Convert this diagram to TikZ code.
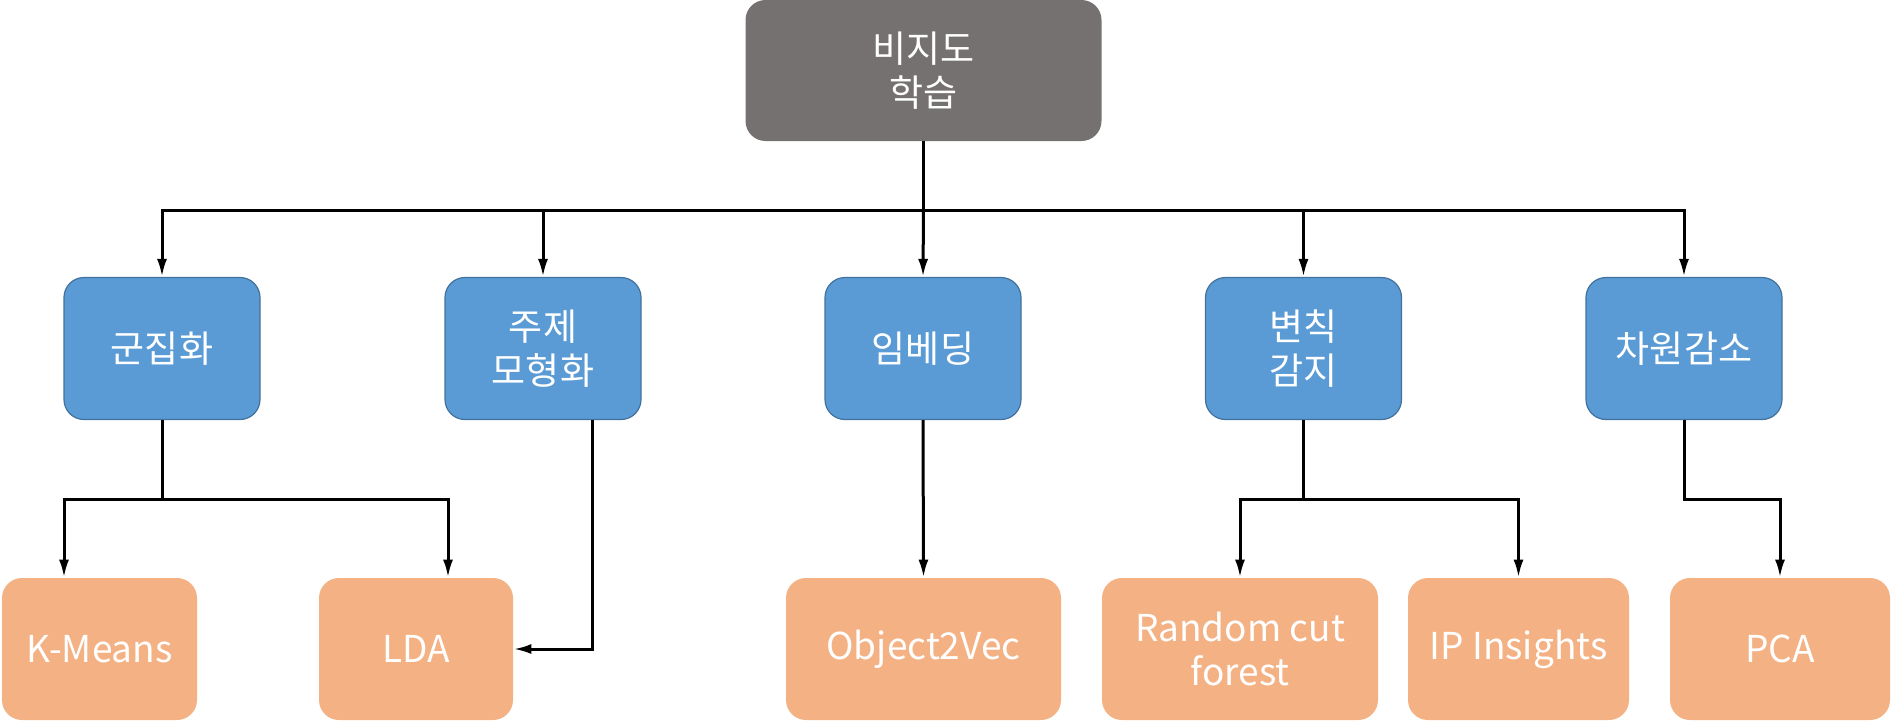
\documentclass[tikz,border=0pt]{standalone}
\usepackage{fontspec}
\setmainfont{Noto Sans CJK KR}
\usetikzlibrary{arrows.meta}
\definecolor{topgray}{HTML}{767171}
\definecolor{bluefill}{HTML}{5B9BD5}
\definecolor{blueline}{HTML}{41719C}
\definecolor{orangefill}{HTML}{F4B183}
\tikzset{
  box/.style={rectangle, rounded corners=10pt, text=white, align=center,
    font=\fontsize{18.5pt}{22pt}\selectfont, inner sep=0pt},
  topbox/.style={box, fill=topgray, minimum width=178pt, minimum height=70.5pt},
  midbox/.style={box, fill=bluefill, draw=blueline, line width=0.6pt, minimum width=98pt, minimum height=71pt},
  leafbox/.style={box, fill=orangefill, minimum height=71pt},
  arr/.style={line width=1.5pt, -{Latex[length=9pt,width=5pt]}},
  ln/.style={line width=1.5pt}
}
\begin{document}
\begin{tikzpicture}[x=0.5pt,y=-0.5pt]
\useasboundingbox (0,0) rectangle (1892,720);
\node[topbox] (top) at (923.5,70.5) {비지도\\학습};
\node[midbox] (b1) at (162,348.5) {군집화};
\node[midbox] (b2) at (543,348.5) {주제\\모형화};
\node[midbox] (b3) at (923,348.5) {임베딩};
\node[midbox] (b4) at (1303.5,348.5) {변칙\\감지};
\node[midbox] (b5) at (1684,348.5) {차원감소};
\node[leafbox, minimum width=97.5pt] (km) at (99.5,649) {K-Means};
\node[leafbox, minimum width=97pt] (lda) at (416,649) {LDA};
\node[leafbox, minimum width=137.5pt] (o2v) at (923.5,649) {Object2Vec};
\node[leafbox, minimum width=138pt] (rcf) at (1240,649) {Random cut\\forest};
\node[leafbox, minimum width=110.5pt] (ip) at (1518.5,649) {IP Insights};
\node[leafbox, minimum width=110pt] (pca) at (1780,649) {PCA};
\coordinate (busA) at (0,210);
\coordinate (busB) at (0,499);
% top level
\draw[ln] (top.south) -- (top.south |- busA);
\draw[arr] (top.south |- busA) -| (b1.north);
\draw[arr] (top.south |- busA) -| (b2.north);
\draw[arr] (top.south |- busA) -- (b3.north);
\draw[arr] (top.south |- busA) -| (b4.north);
\draw[arr] (top.south |- busA) -| (b5.north);
% 군집화
\draw[ln] (b1.south) -- (b1.south |- busB);
\draw[arr] (b1.south |- busB) -| ([xshift=-17.75pt]km.north);
\draw[arr] (b1.south |- busB) -| ([xshift=16pt]lda.north);
% 주제 모형화
\draw[arr] ([xshift=24.5pt]b2.south) |- (lda.east);
% 임베딩
\draw[arr] (b3.south) -- (o2v.north);
% 변칙 감지
\draw[ln] (b4.south) -- (b4.south |- busB);
\draw[arr] (b4.south |- busB) -| (rcf.north);
\draw[arr] (b4.south |- busB) -| (ip.north);
% 차원감소
\draw[arr] (b5.south) |- (busB -| pca.north) -- (pca.north);
\end{tikzpicture}
\end{document}
